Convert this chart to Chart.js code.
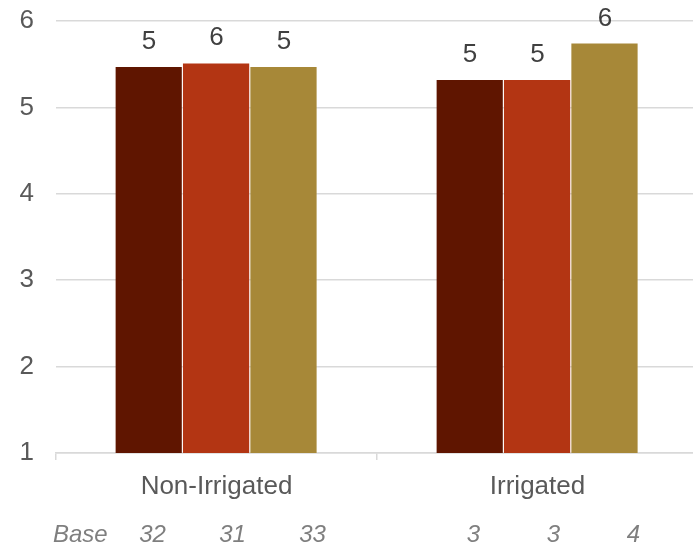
<!DOCTYPE html>
<html>
<head>
<meta charset="utf-8">
<style>
  html, body { margin: 0; padding: 0; background: #ffffff; overflow: hidden; }
  #wrap { position: relative; width: 698px; height: 545px; }
</style>
<script src="https://cdn.jsdelivr.net/npm/chart.js@4/dist/chart.umd.min.js"></script>
</head>
<body>
<div id="wrap"><canvas id="chart"></canvas></div>
<script>
// Categories and mean scores per group
const categories = ['Non-Irrigated', 'Irrigated'];
const seriesNames = ['Group 1', 'Group 2', 'Group 3'];
const group1Values = [5.48, 5.33];
const group2Values = [5.52, 5.33];
const group3Values = [5.48, 5.75];

// Respondent counts (base) per group and category
const group1Base = [32, 3];
const group2Base = [31, 3];
const group3Base = [33, 4];
const baseLabel = 'Base';

const yTicks = [1, 2, 3, 4, 5, 6];

const FONT = "'Liberation Sans', Arial, sans-serif";
const colors = ['#5f1500', '#b33513', '#a78838'];

// Value labels above each bar, rounded to whole numbers
const valueLabels = {
  id: 'valueLabels',
  afterDatasetsDraw(chart) {
    const ctx = chart.ctx;
    ctx.save();
    ctx.font = '26px ' + FONT;
    ctx.fillStyle = '#404040';
    ctx.textAlign = 'center';
    ctx.textBaseline = 'alphabetic';
    chart.data.datasets.forEach((ds, di) => {
      const meta = chart.getDatasetMeta(di);
      meta.data.forEach((bar, i) => {
        ctx.fillText(Math.round(ds.data[i]).toString(), bar.x, bar.y - 17);
      });
    });
    ctx.restore();
  }
};

// Base counts row under the category labels
const baseRow = {
  id: 'baseRow',
  afterDraw(chart) {
    const ctx = chart.ctx;
    const x = chart.scales.x;
    const bases = [group1Base, group2Base, group3Base];
    const y = chart.height - 3;
    ctx.save();
    ctx.font = 'italic 24px ' + FONT;
    ctx.fillStyle = '#7f7f7f';
    ctx.textBaseline = 'alphabetic';
    ctx.textAlign = 'left';
    ctx.fillText(baseLabel, 53, y);
    ctx.textAlign = 'center';
    categories.forEach((c, ci) => {
      const cx = x.getPixelForValue(ci);
      bases.forEach((b, bi) => {
        ctx.fillText(String(b[ci]), cx + 16 + (bi - 1) * 80, y);
      });
    });
    ctx.restore();
  }
};

new Chart(document.getElementById('chart'), {
  type: 'bar',
  data: {
    labels: categories,
    datasets: [group1Values, group2Values, group3Values].map((vals, i) => ({
      label: seriesNames[i],
      data: vals,
      backgroundColor: colors[i],
      borderColor: 'rgba(255,255,255,0.3)',
      borderWidth: { top: 1, right: 1, left: 0, bottom: 0 },
      borderSkipped: false,
      barPercentage: 1,
      categoryPercentage: 0.63
    }))
  },
  options: {
    responsive: true,
    maintainAspectRatio: false,
    animation: false,
    layout: { padding: { top: 21, left: 0, right: 0, bottom: 0 } },
    plugins: {
      legend: { display: false },
      tooltip: { enabled: false }
    },
    scales: {
      x: {
        offset: true,
        grid: {
          display: true,
          drawOnChartArea: false,
          drawTicks: true,
          tickLength: 7,
          color: '#d9d9d9',
          lineWidth: 1.5,
          offset: true
        },
        border: { display: true, color: '#d9d9d9', width: 1.5 },
        ticks: {
          color: '#595959',
          font: { family: FONT, size: 26 },
          padding: 11,
          maxRotation: 0
        },
        afterFit(scale) { scale.height = 92; }
      },
      y: {
        min: 1,
        max: 6,
        afterBuildTicks(scale) { scale.ticks = yTicks.map(v => ({ value: v })); },
        grid: { color: '#d9d9d9', lineWidth: 1.5, drawTicks: false },
        border: { display: false },
        ticks: {
          color: '#595959',
          font: { family: FONT, size: 26 },
          padding: 22
        },
        afterFit(scale) {
          scale.width = 56;
          scale.paddingTop = 0;
          scale.paddingBottom = 0;
        }
      }
    }
  },
  plugins: [valueLabels, baseRow]
});
</script>
</body>
</html>
